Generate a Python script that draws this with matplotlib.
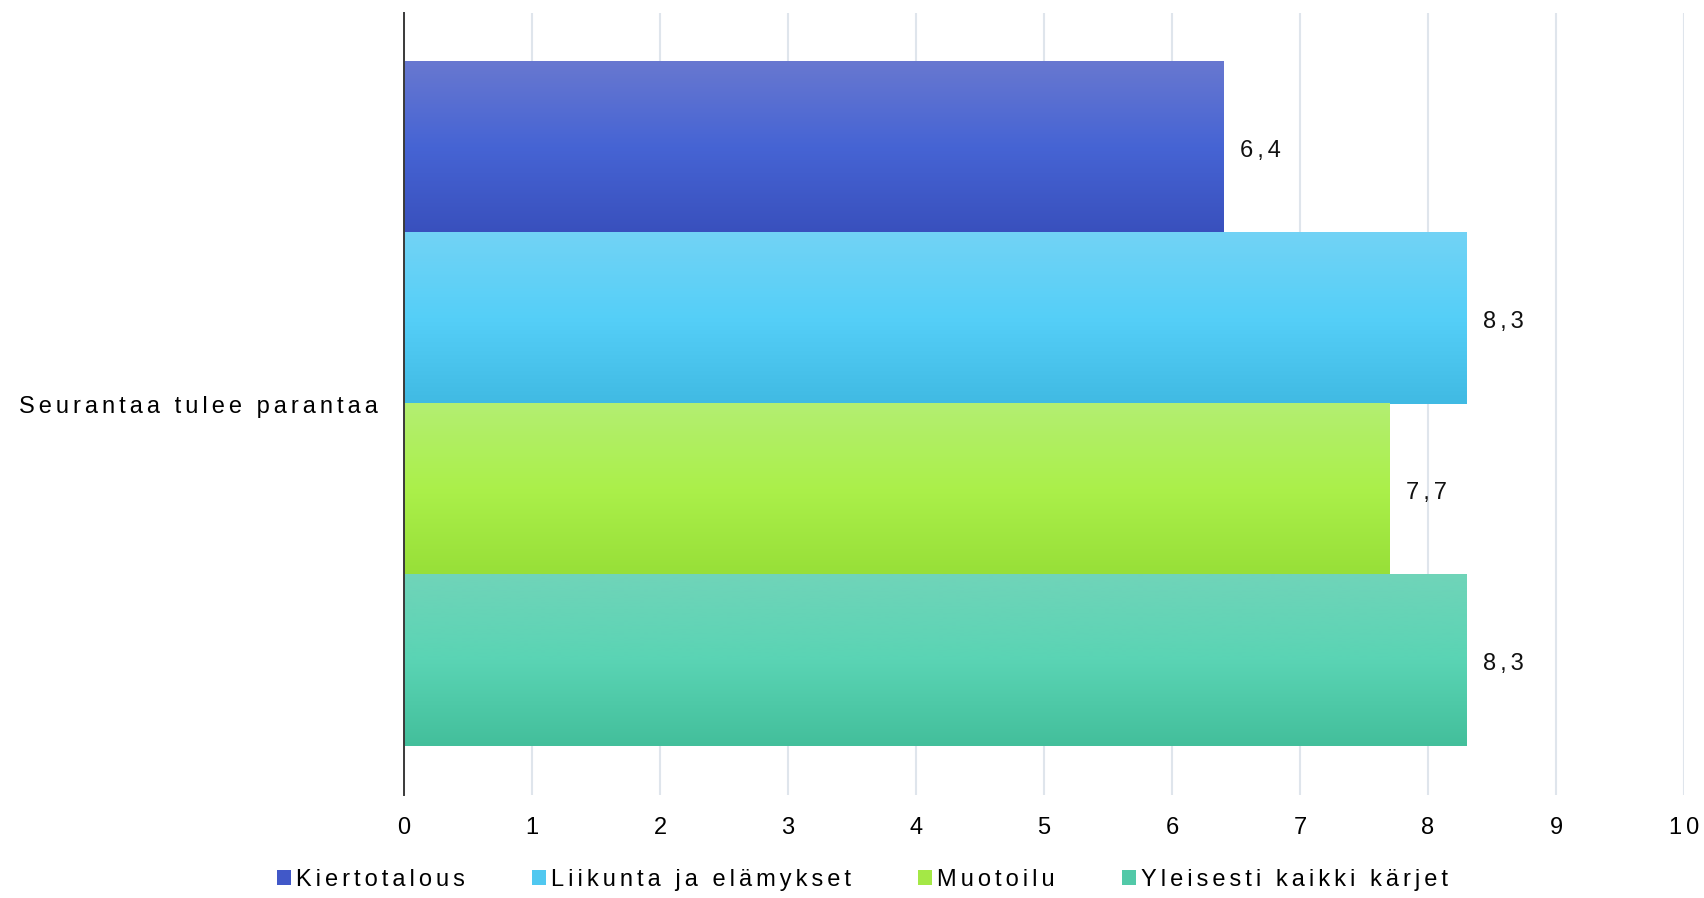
import numpy as np
import matplotlib
matplotlib.use("Agg")
import matplotlib.pyplot as plt
from matplotlib.colors import LinearSegmentedColormap
from matplotlib.patches import Patch

plt.rcParams["font.family"] = ["Liberation Sans", "DejaVu Sans"]

category = "Seurantaa tulee parantaa"
series = ["Kiertotalous", "Liikunta ja elämykset", "Muotoilu", "Yleisesti kaikki kärjet"]
values = [6.4, 8.3, 7.7, 8.3]
value_labels = ["6,4", "8,3", "7,7", "8,3"]
xticks = [0, 1, 2, 3, 4, 5, 6, 7, 8, 9, 10]

# (bottom, middle, top) shades for the vertical gradient of each bar
shades = [
    ("#3950bd", "#4664d4", "#6878d0"),
    ("#40bae3", "#55cff8", "#72d3f5"),
    ("#97df38", "#abf04a", "#b3ee72"),
    ("#43bf9b", "#5ad4b4", "#70d4b9"),
]
legend_colors = ["#4158c8", "#50c8f0", "#a4e846", "#52c9a8"]


def spaced(s):
    # widen the tracking with hair spaces between letters
    return "\u200a\u200a".join(s)


fig = plt.figure(figsize=(17.04, 8.98), dpi=100)
ax = fig.add_axes([404 / 1704, 1 - 795 / 898, 1280 / 1704, 782 / 898])

n = len(series)
h = 0.875 / n
pos = [((n - 1) / 2 - i) * h for i in range(n)]
bars = ax.barh(pos, values, height=h, color="none", edgecolor="none", zorder=2)

grad = np.linspace(0, 1, 256).reshape(-1, 1)
for bar, sh, val, lab in zip(bars, shades, values, value_labels):
    cmap = LinearSegmentedColormap.from_list("g", list(sh))
    x0, y0 = bar.get_x(), bar.get_y()
    w, hh = bar.get_width(), bar.get_height()
    ax.imshow(grad, cmap=cmap, aspect="auto", origin="lower",
              extent=(x0, x0 + w, y0, y0 + hh), zorder=2, interpolation="bilinear")
    ax.text(val + 0.13, y0 + hh / 2 - 0.004, spaced(lab), va="center", ha="left",
            fontsize=17, color="#111111")

ax.set_xlim(0, 10)
ax.set_ylim(-0.5, 0.5)
ax.set_xticks(xticks)
ax.set_xticklabels([spaced(str(t)) for t in xticks], fontsize=17)
ax.set_yticks([0])
ax.set_yticklabels([spaced(category)], fontsize=17)
ax.tick_params(axis="x", length=0, pad=16)
ax.tick_params(axis="y", length=0, pad=19)

ax.grid(axis="x", color="#dfe5ec", linewidth=1.5, zorder=0)
ax.set_axisbelow(True)
for s in ["top", "right", "bottom"]:
    ax.spines[s].set_visible(False)
ax.spines["left"].set_color("#3a3a3a")
ax.spines["left"].set_linewidth(1.4)
ax.spines["left"].set_zorder(3)

handles = [Patch(facecolor=c, edgecolor="none") for c in legend_colors]
fig.legend(handles, [spaced(s) for s in series], loc="center",
           bbox_to_anchor=(0.506, 1 - 880 / 898),
           ncol=4, frameon=False, fontsize=17, handlelength=0.6, handleheight=0.6,
           handletextpad=0.2, columnspacing=2.85)

fig.savefig("out.png", dpi=100)
